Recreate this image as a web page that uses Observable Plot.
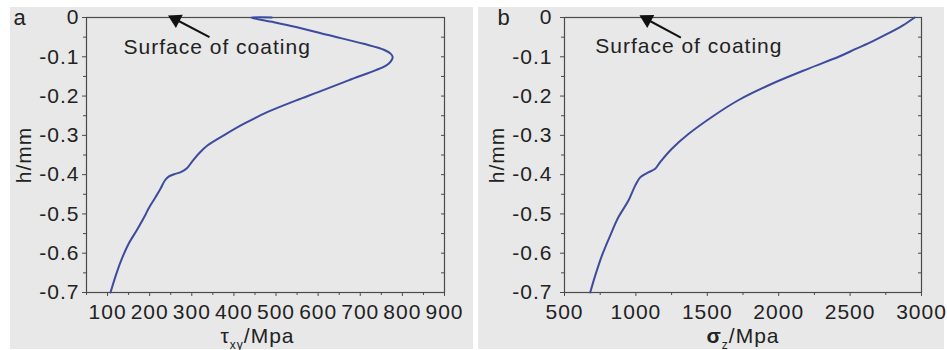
<!DOCTYPE html>
<html>
<head>
<meta charset="utf-8">
<script src="https://cdn.jsdelivr.net/npm/d3@7"></script>
<script src="https://cdn.jsdelivr.net/npm/@observablehq/plot@0.6"></script>
<style>
  html, body { margin: 0; padding: 0; background: #ffffff; }
  #wrap { position: relative; width: 947px; height: 350px; overflow: hidden; }
  .panel { position: absolute; top: 7px; height: 342px; background: #e8e8e8; }
  .panel svg { overflow: visible; }
</style>
</head>
<body>
<div id="wrap">
  <div class="panel" id="pa" style="left:10px;width:463px;"></div>
  <div class="panel" id="pb" style="left:478px;width:466px;"></div>
</div>
<script>
// ---- Panel a: shear stress tau_xy vs depth h ----
const hA =   [0,   0,   -0.012, -0.025, -0.046, -0.067, -0.082, -0.092, -0.101, -0.111, -0.122, -0.160, -0.190, -0.211, -0.241, -0.271, -0.300, -0.326, -0.345, -0.365, -0.383, -0.393, -0.399, -0.405, -0.415, -0.435, -0.457, -0.487, -0.500, -0.542, -0.576, -0.614, -0.652, -0.700];
const tauA = [490, 440, 495,    550,    629,    708,    756,    772,    777,    773,    762,    672,    600,    548,    479,    423,    376,    337,    318,    302,    289,    275,    258,    245,    236,    226,    214,    197,    191,    169,    150,    134,    121,    107];

// ---- Panel b: normal stress sigma_z vs depth h ----
const hB =     [0,    -0.020, -0.040, -0.060, -0.080, -0.100, -0.130, -0.170, -0.210, -0.250, -0.296, -0.334, -0.368, -0.385, -0.396, -0.407, -0.428, -0.466, -0.508, -0.555, -0.606, -0.657, -0.700];
const sigmaB = [2952, 2870,   2770,   2660,   2540,   2420,   2210,   1945,   1720,   1545,   1370,   1252,   1170,   1135,   1077,   1030,   995,    948,    878,    820,    762,    715,    680];

// ---- tick labels ----
const yMajor = [0, -0.1, -0.2, -0.3, -0.4, -0.5, -0.6, -0.7];
const yMinor = [-0.05, -0.15, -0.25, -0.35, -0.45, -0.55, -0.65];
const xMajorA = [100, 200, 300, 400, 500, 600, 700, 800, 900];
const xMinorA = [50, 150, 250, 350, 450, 550, 650, 750, 850];
const xMajorB = [500, 1000, 1500, 2000, 2500, 3000];
const xMinorB = [750, 1250, 1750, 2250, 2750];

// annotation
const noteText = "Surface of coating";
const arrowA = [{x1: 342, y1: -0.050, x2: 253, y2: 0}];
const arrowB = [{x1: 1315, y1: -0.051, x2: 1053, y2: 0}];
const labelA = [{x: 138, y: -0.094}];
const labelB = [{x: 715, y: -0.091}];

const lineColor = "#3d4b9e";
const ink = "#222222";
const axisInk = "#4a4a4a";
const yFmt = d => d === 0 ? "0" : d.toFixed(1);
const xFmt = d => String(d);

const dataA = hA.map((h, i) => ({h, v: tauA[i]}));
const dataB = hB.map((h, i) => ({h, v: sigmaB[i]}));

function panel({data, width, ml, mr, xDomain, xMajor, xMinor, arrow, label, letter, letterDx, yTitleDx, yPad, titleMain, titleSub, titleBold, titleDx}) {
  const chart = Plot.plot({
    width, height: 342,
    marginLeft: ml, marginRight: mr, marginTop: 10, marginBottom: 57,
    style: {background: "transparent", fontFamily: "'Liberation Sans', Arial, sans-serif", fontSize: "21px", color: ink, letterSpacing: "1px"},
    x: {domain: xDomain},
    y: {domain: [-0.7, 0]},
    marks: [
      Plot.frame({stroke: axisInk, strokeWidth: 1.2}),
      Plot.axisY(yMajor, {anchor: "left", tickSize: 4, tickPadding: yPad, tickFormat: yFmt, label: null, stroke: axisInk, fill: ink}),
      Plot.axisY(yMinor, {anchor: "left", tickSize: 3, tickFormat: () => "", label: null, stroke: axisInk}),
      Plot.axisY(yMajor.concat(yMinor), {anchor: "right", tickSize: -4, tickFormat: () => "", label: null, stroke: axisInk}),
      Plot.axisX(xMajor, {anchor: "bottom", tickSize: 4, tickPadding: 8, tickFormat: xFmt, label: null, stroke: axisInk, fill: ink}),
      Plot.axisX(xMinor, {anchor: "bottom", tickSize: 3, tickFormat: () => "", label: null, stroke: axisInk}),
      Plot.line(data, {x: "v", y: "h", stroke: lineColor, strokeWidth: 2, curve: "catmull-rom"}),
      Plot.link(arrow, {x1: "x1", y1: "y1", x2: "x2", y2: "y2", stroke: "#111", strokeWidth: 2}),
      Plot.dot(arrow, {x: "x2", y: "y2", symbol: "triangle", r: 5.5, fill: "#111", stroke: null}),
      Plot.text(label, {x: "x", y: "y", text: () => noteText, textAnchor: "start", lineAnchor: "bottom", fill: ink}),
      Plot.text([letter], {frameAnchor: "top-left", dx: letterDx, dy: 7, textAnchor: "start", lineAnchor: "bottom", fontSize: 22, fill: ink}),
      Plot.text(["h/mm"], {frameAnchor: "left", rotate: -90, dx: yTitleDx, textAnchor: "middle", lineAnchor: "middle", fill: ink}),
      Plot.text([titleMain], {frameAnchor: "bottom", dx: titleDx, dy: 50, textAnchor: "middle", lineAnchor: "bottom", fill: ink})
    ]
  });
  // x title with subscript
  d3.select(chart).selectAll("text").filter(function() { return this.textContent === titleMain; }).each(function() {
    const t = d3.select(this);
    t.text(null);
    t.append("tspan").text(titleMain).style("font-weight", titleBold ? "bold" : null);
    t.append("tspan").text(titleSub).attr("font-size", 12).attr("dy", 6);
    t.append("tspan").text("/Mpa").attr("dy", -6);
  });
  // orient arrowhead along the arrow
  const head = d3.select(chart).select('g[aria-label="dot"] path');
  if (!head.empty()) {
    const a = arrow[0];
    const X = chart.scale("x"), Y = chart.scale("y");
    const sx1 = X.apply(a.x1), sy1 = Y.apply(a.y1), sx2 = X.apply(a.x2), sy2 = Y.apply(a.y2);
    const dx = sx2 - sx1, dy = sy2 - sy1;
    const L = Math.hypot(dx, dy);
    const deg = Math.atan2(dx, -dy) * 180 / Math.PI;
    const back = 4;
    const cx = sx2 - dx / L * back, cy = sy2 - dy / L * back;
    head.attr("transform", `translate(${cx},${cy}) rotate(${deg})`);
  }
  return chart;
}

document.getElementById("pa").append(panel({
  data: dataA, width: 463, ml: 76, mr: 29, xDomain: [50, 900],
  xMajor: xMajorA, xMinor: xMinorA, arrow: arrowA, label: labelA,
  letter: "a", letterDx: -73, yTitleDx: -62, yPad: 3,
  titleMain: "τ", titleSub: "xy", titleBold: false, titleDx: -8
}));
document.getElementById("pb").append(panel({
  data: dataB, width: 466, ml: 86, mr: 23, xDomain: [500, 3000],
  xMajor: xMajorB, xMinor: xMinorB, arrow: arrowB, label: labelB,
  letter: "b", letterDx: -67, yTitleDx: -67, yPad: 8,
  titleMain: "σ", titleSub: "z", titleBold: true, titleDx: 0
}));
</script>
</body>
</html>
